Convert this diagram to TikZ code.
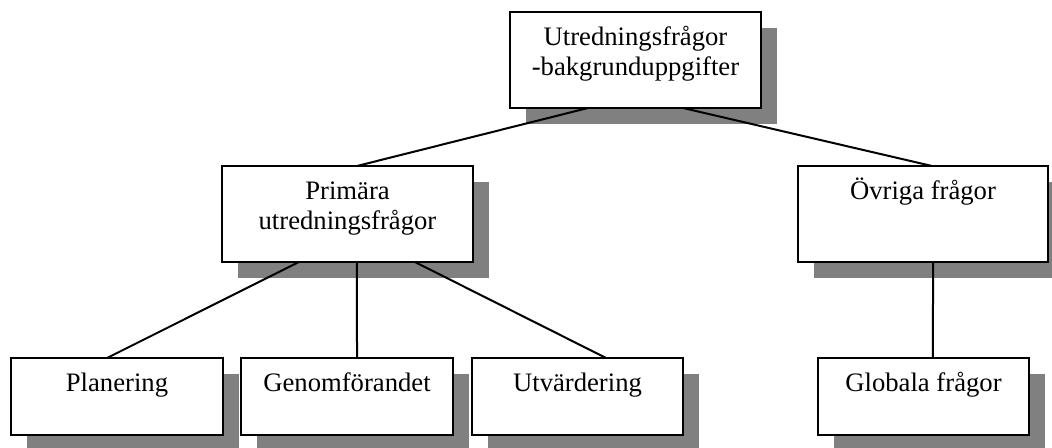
\documentclass[tikz,border=0pt]{standalone}
\usepackage{fontspec}
\setmainfont{Liberation Serif}
\begin{document}
\begin{tikzpicture}[x=0.75pt,y=-0.75pt,
  box/.style={draw=black,line width=1.5pt,fill=white,inner sep=0pt,outer sep=0pt},
  shade/.style={fill=black!50,draw=none},
  lbl/.style={anchor=base,inner sep=0pt,align=center,font=\fontsize{20}{22.5}\selectfont},
  link/.style={line width=1.5pt}]
\useasboundingbox (0,0) rectangle (1052,448);
\clip (0,0) rectangle (1052,448);
% shadows
\foreach \xa/\ya/\xb/\yb in {510/12/761/108, 222/166/473/262, 798/166/1048/262,
  11/358/223/435, 241/358/453/435, 472/358/683/435, 818/358/1029/435}{
  \fill[shade] (\xa+16,\ya+16) rectangle (\xb+16,\yb+16);
}
% boxes
\node[box,minimum width=188.25pt,minimum height=72pt] (top) at (635.5,60) {};
\node[box,minimum width=188.25pt,minimum height=72pt] (prim) at (347.5,214) {};
\node[box,minimum width=187.5pt,minimum height=72pt] (ovr) at (923,214) {};
\node[box,minimum width=159pt,minimum height=57.75pt] (plan) at (117,396.5) {};
\node[box,minimum width=159pt,minimum height=57.75pt] (gen) at (347,396.5) {};
\node[box,minimum width=158.25pt,minimum height=57.75pt] (utv) at (577.5,396.5) {};
\node[box,minimum width=158.25pt,minimum height=57.75pt] (glob) at (923.5,396.5) {};
% labels (base = baseline of the last line)
\node[lbl] (topl) at ([yshift=-48pt]top.north) {Utredningsfrågor\\-bakgrunduppgifter};
\node[lbl] (priml) at ([yshift=-48pt]prim.north) {Primära\\utredningsfrågor};
\node[lbl] (ovrl) at ([yshift=-25.5pt]ovr.north) {Övriga frågor};
\node[lbl] (planl) at ([yshift=-25.5pt]plan.north) {Planering};
\node[lbl] (genl) at ([yshift=-25.5pt]gen.north) {Genomförandet};
\node[lbl] (utvl) at ([yshift=-25.5pt]utv.north) {Utvärdering};
\node[lbl] (globl) at ([yshift=-25.5pt]glob.north) {Globala frågor};
% connectors
\draw[link] ([xshift=-35.6pt]top.south) -- ([xshift=7.1pt]prim.north);
\draw[link] ([xshift=35.6pt]top.south) -- ([xshift=6.75pt]ovr.north);
\draw[link] ([xshift=-36.4pt]prim.south) -- ([xshift=-7.5pt]plan.north);
\draw[link] ([xshift=7.1pt]prim.south) -- ([xshift=7.5pt]gen.north);
\draw[link] ([xshift=50.6pt]prim.south) -- ([xshift=21.4pt]utv.north);
\draw[link] ([xshift=7.5pt]ovr.south) -- ([xshift=7.1pt]glob.north);
\end{tikzpicture}
\end{document}
